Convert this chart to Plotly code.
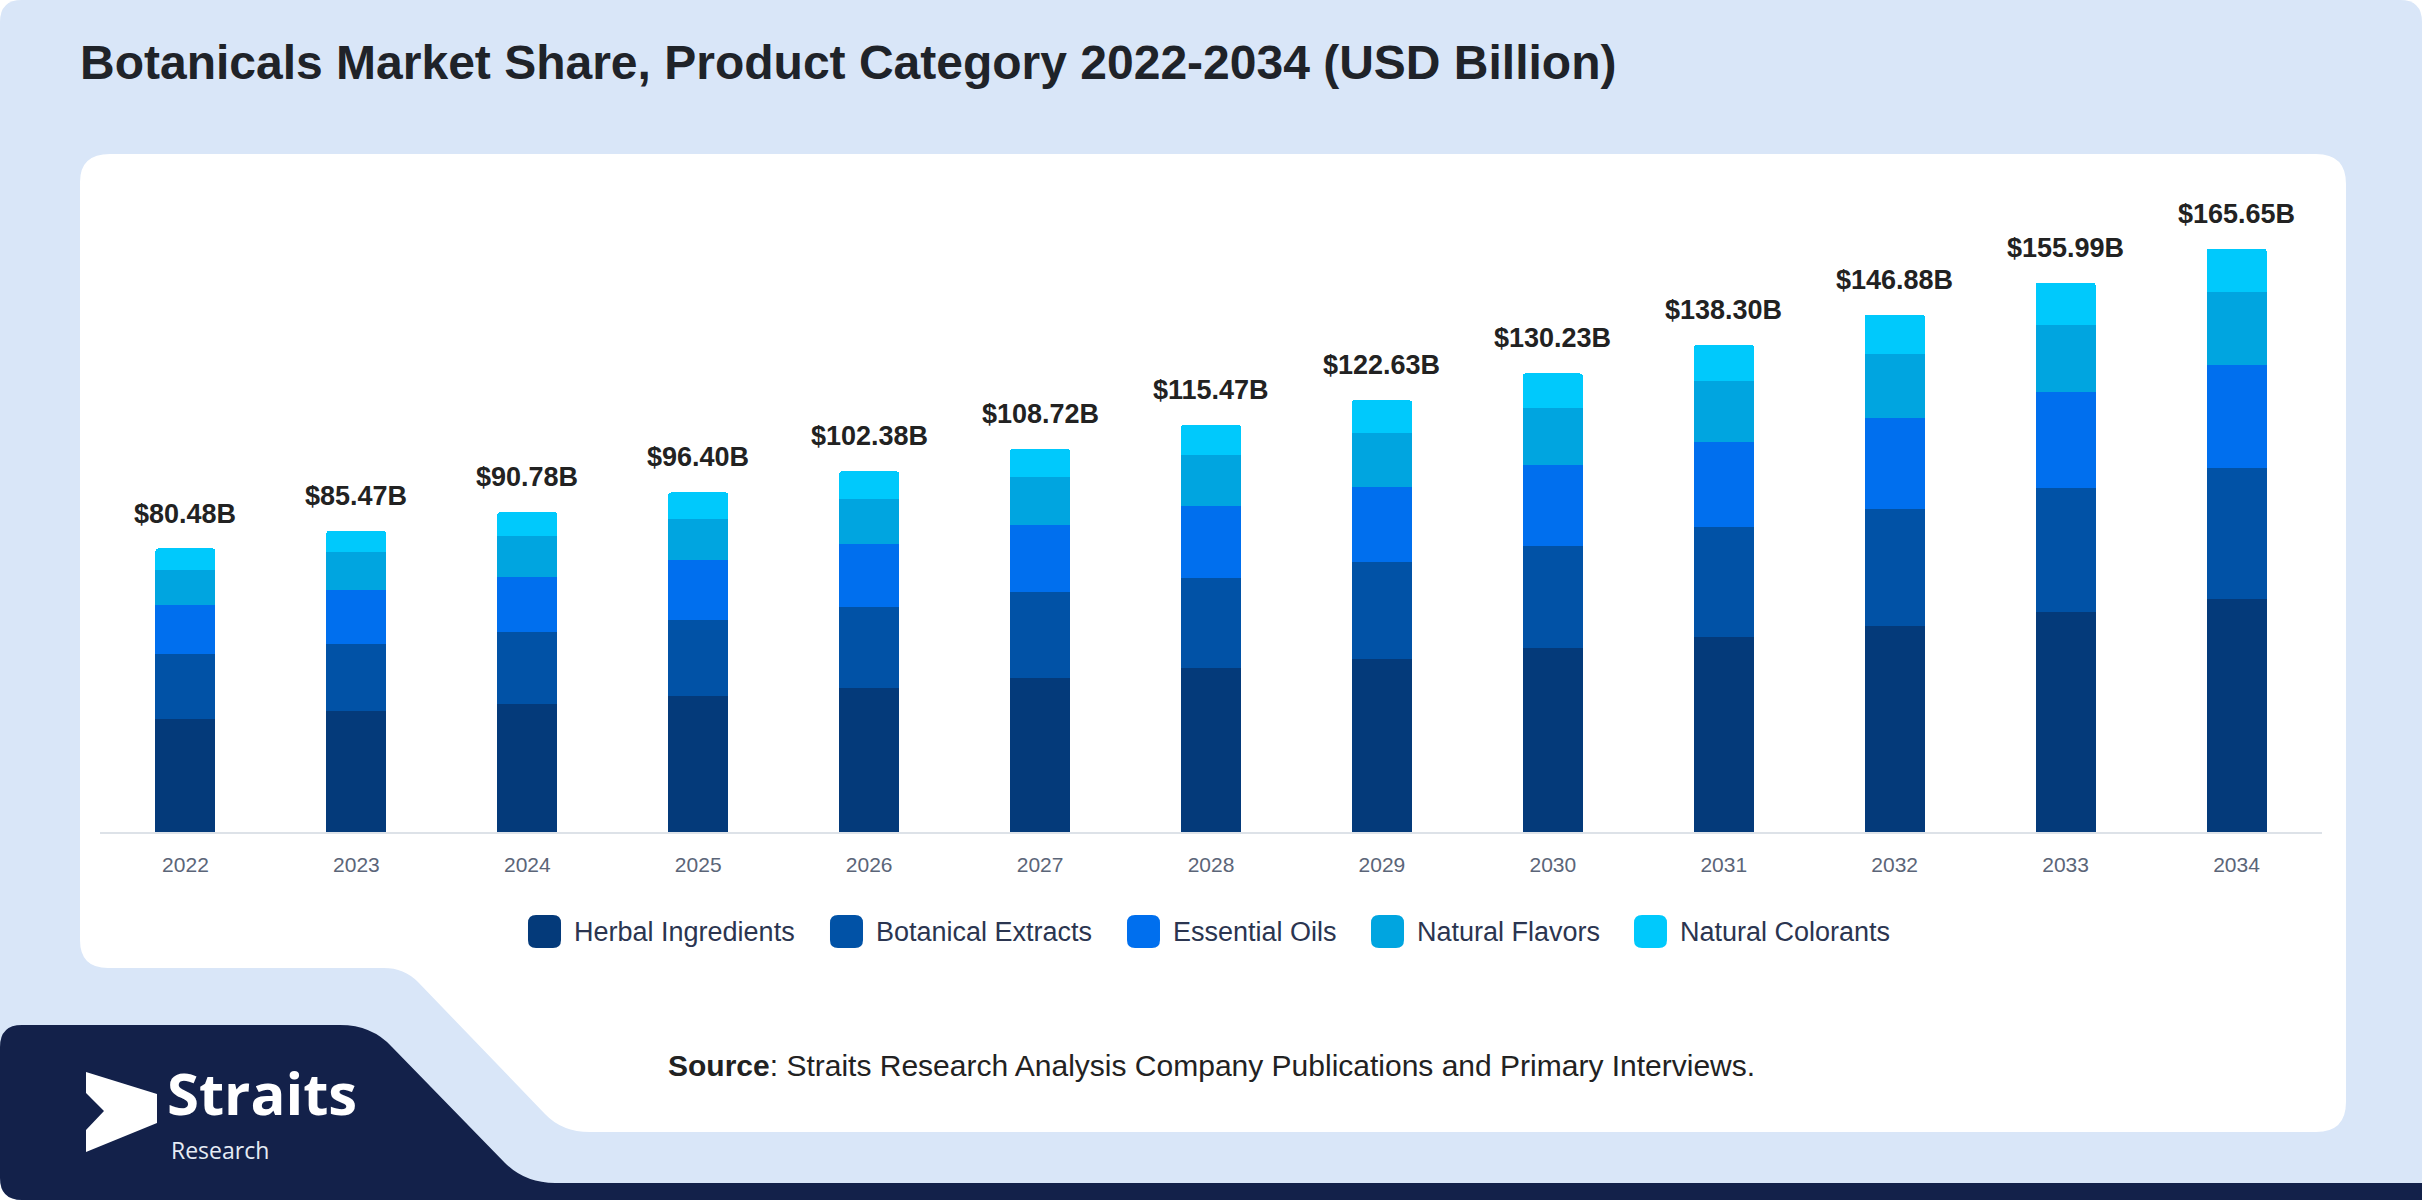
import plotly.graph_objects as go

# ---------------- data ----------------
years = ["2022", "2023", "2024", "2025", "2026", "2027", "2028",
         "2029", "2030", "2031", "2032", "2033", "2034"]
series_names = ["Herbal Ingredients", "Botanical Extracts", "Essential Oils",
                "Natural Flavors", "Natural Colorants"]
herbal_ingredients = [32.2, 34.3, 36.3, 38.7, 40.9, 43.8, 46.5, 49.2, 52.2, 55.5, 58.6, 62.4, 66.25]
botanical_extracts = [18.3, 19.2, 20.4, 21.5, 23.0, 24.3, 25.7, 27.5, 29.1, 31.2, 33.0, 35.2, 37.2]
essential_oils = [13.9, 15.1, 15.8, 17.0, 18.0, 19.0, 20.4, 21.3, 22.9, 24.1, 25.9, 27.3, 29.2]
natural_flavors = [9.9, 10.9, 11.4, 11.8, 12.6, 13.6, 14.3, 15.4, 16.2, 17.3, 18.2, 19.0, 20.7]
natural_colorants = [6.2, 6.0, 6.9, 7.4, 7.9, 8.0, 8.6, 9.2, 9.8, 10.2, 11.2, 12.1, 12.3]
totals = [80.48, 85.47, 90.78, 96.40, 102.38, 108.72, 115.47,
          122.63, 130.23, 138.30, 146.88, 155.99, 165.65]

series_values = [herbal_ingredients, botanical_extracts, essential_oils,
                 natural_flavors, natural_colorants]
colors = ["#043a7a", "#0152a6", "#006fee", "#00a5e0", "#00c9fc"]

# ---------------- geometry helpers (pixels -> paper) ----------------
W, H = 2422, 1200


def px(x):
    return x / W


def py(y):
    return 1 - y / H


def path(cmds):
    out = []
    for c in cmds:
        op = c[0]
        if op == "Z":
            out.append("Z")
        else:
            pts = c[1:]
            coords = []
            for i in range(0, len(pts), 2):
                coords.append(f"{px(pts[i]):.5f},{py(pts[i+1]):.5f}")
            out.append(op + " " + " ".join(coords))
    return " ".join(out)


def rrect(x0, y0, x1, y1, r):
    return path([
        ("M", x0 + r, y0), ("L", x1 - r, y0), ("Q", x1, y0, x1, y0 + r),
        ("L", x1, y1 - r), ("Q", x1, y1, x1 - r, y1), ("L", x0 + r, y1),
        ("Q", x0, y1, x0, y1 - r), ("L", x0, y0 + r), ("Q", x0, y0, x0 + r, y0), ("Z",)
    ])


FONT = "Liberation Sans, Arial, sans-serif"
LOGO_FONT = "Open Sans, Noto Sans, sans-serif"

fig = go.Figure()
for name, vals, col in zip(series_names, series_values, colors):
    fig.add_trace(go.Bar(
        x=years, y=vals, name=name, marker=dict(color=col, line=dict(width=0)),
        showlegend=False,
    ))

shapes = []
# outer light-blue rounded background
shapes.append(dict(type="path", xref="paper", yref="paper", layer="below",
                   path=rrect(0, 0, W, H, 22), fillcolor="#d9e6f8", line=dict(width=0)))
# white card with cut-out bottom-left
shapes.append(dict(type="path", xref="paper", yref="paper", layer="below",
                   path=path([
                       ("M", 110, 154), ("L", 2316, 154), ("Q", 2346, 154, 2346, 184),
                       ("L", 2346, 1102), ("Q", 2346, 1132, 2316, 1132),
                       ("L", 590, 1132), ("Q", 562, 1132, 545, 1114),
                       ("L", 418, 982), ("Q", 404, 968, 384, 968),
                       ("L", 108, 968), ("Q", 80, 968, 80, 940),
                       ("L", 80, 182), ("Q", 80, 154, 110, 154), ("Z",)
                   ]),
                   fillcolor="#ffffff", line=dict(width=0)))
# navy footer shape
shapes.append(dict(type="path", xref="paper", yref="paper", layer="below",
                   path=path([
                       ("M", 0, 1047), ("Q", 0, 1025, 22, 1025), ("L", 340, 1025),
                       ("Q", 372, 1025, 392, 1047), ("L", 505, 1163),
                       ("Q", 525, 1183, 555, 1183), ("L", W, 1183), ("L", W, H),
                       ("L", 22, H), ("Q", 0, H, 0, H - 22), ("Z",)
                   ]),
                   fillcolor="#13214a", line=dict(width=0)))
# logo arrow
shapes.append(dict(type="path", xref="paper", yref="paper", layer="above",
                   path=path([
                       ("M", 86, 1072), ("L", 157, 1094), ("L", 157, 1123),
                       ("L", 86, 1152), ("L", 86, 1130), ("L", 104, 1111),
                       ("L", 86, 1093), ("Z",)
                   ]),
                   fillcolor="#ffffff", line=dict(width=0)))

annotations = []
# totals above bars (category index positions on the x axis)
for i, tot in enumerate(totals):
    annotations.append(dict(
        x=i, y=tot, xref="x", yref="y", text=f"${tot:.2f}B", showarrow=False,
        xanchor="center", yanchor="bottom", yshift=18,
        font=dict(family=FONT, size=27, color="#222222", weight="bold"),
    ))

# manual legend
legend_sq_x = [528, 830, 1127, 1371, 1634]
for name, col, sx in zip(series_names, colors, legend_sq_x):
    shapes.append(dict(type="path", xref="paper", yref="paper", layer="above",
                       path=rrect(sx, 915, sx + 33, 948, 8), fillcolor=col,
                       line=dict(width=0)))
    annotations.append(dict(
        x=px(sx + 44), y=py(932), xref="paper", yref="paper", text=name,
        showarrow=False, xanchor="left", yanchor="middle",
        font=dict(family=FONT, size=27, color="#2b3550"),
    ))

# source
annotations.append(dict(
    x=px(666), y=py(1065), xref="paper", yref="paper",
    text="<b>Source</b>: Straits Research Analysis Company Publications and Primary Interviews.",
    showarrow=False, xanchor="left", yanchor="middle",
    font=dict(family=FONT, size=30, color="#222222"),
))
# logo text
annotations.append(dict(
    x=px(166), y=py(1133), xref="paper", yref="paper", text="Straits",
    showarrow=False, xanchor="left", yanchor="bottom", borderpad=0,
    font=dict(family=LOGO_FONT, size=58, color="#ffffff", weight="bold"),
))
annotations.append(dict(
    x=px(170), y=py(1133), xref="paper", yref="paper", text="Research",
    showarrow=False, xanchor="left", yanchor="top", borderpad=0,
    font=dict(family=LOGO_FONT, size=23, color="#e6ecf5"),
))

fig.update_layout(
    width=W, height=H, autosize=False,
    margin=dict(l=0, r=0, t=0, b=0),
    paper_bgcolor="#ffffff", plot_bgcolor="rgba(0,0,0,0)",
    barmode="stack", bargap=0.649, barcornerradius=3,
    title=dict(
        text="Botanicals Market Share, Product Category 2022-2034 (USD Billion)",
        x=px(80), xanchor="left", xref="paper",
        y=py(62), yanchor="middle", yref="paper",
        font=dict(family=FONT, size=48, color="#1f2329", weight="bold"),
    ),
    xaxis=dict(
        domain=[px(100), px(2322)], range=[-0.5, 12.5], type="category",
        showline=True, linecolor="#dde2e8", linewidth=2, showgrid=False,
        ticks="", ticklabelstandoff=13,
        tickfont=dict(family=FONT, size=21, color="#5b6578"),
        fixedrange=True,
    ),
    yaxis=dict(
        domain=[py(832), py(198)], range=[0, 180], visible=False,
        showgrid=False, zeroline=False, fixedrange=True,
    ),
    shapes=shapes,
    annotations=annotations,
    showlegend=False,
)

fig.write_html(
    "out.html",
    config={"displayModeBar": False},
    post_script="document.body.style.margin='0';document.body.style.overflow='hidden';",
)
